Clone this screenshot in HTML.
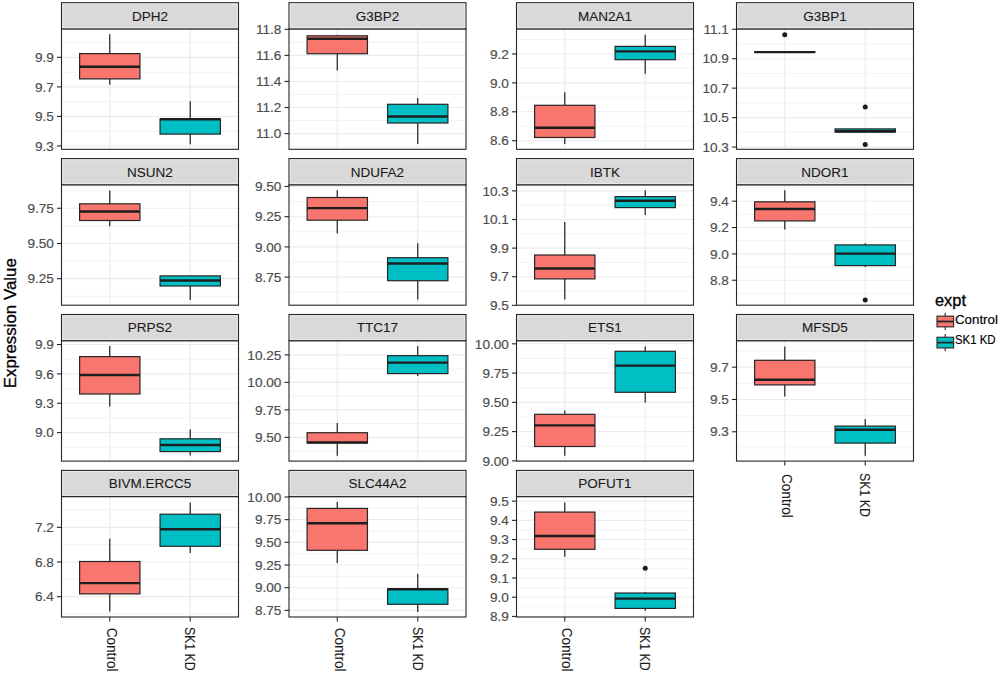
<!DOCTYPE html>
<html><head><meta charset="utf-8"><title>Expression boxplots</title>
<style>
html,body{margin:0;padding:0;background:#fff;}
body{width:1000px;height:674px;overflow:hidden;}
svg{display:block;}
text{font-family:"Liberation Sans",sans-serif;paint-order:stroke;stroke-width:0.35px;}
.s{font-size:13.5px;fill:#1A1A1A;stroke:#1A1A1A;stroke-width:0.1px;}
.a{font-size:13.6px;fill:#4D4D4D;stroke:#4D4D4D;stroke-width:0.18px;}
.x{font-size:14px;fill:#1A1A1A;stroke:#1A1A1A;stroke-width:0.1px;}
.t{font-size:16.9px;fill:#000;stroke:#000;stroke-width:0.3px;}
.l{font-size:12px;fill:#000;stroke:#000;stroke-width:0.15px;}
</style></head>
<body>
<svg width="1000" height="674" viewBox="0 0 1000 674">
<rect width="1000" height="674" fill="#fff"/>
<clipPath id="c00"><rect x="61.5" y="28.9" width="177" height="120.4"/></clipPath>
<g clip-path="url(#c00)">
<line x1="61.5" x2="238.5" y1="42.57" y2="42.57" stroke="#EBEBEB" stroke-width="0.6"/>
<line x1="61.5" x2="238.5" y1="72.11" y2="72.11" stroke="#EBEBEB" stroke-width="0.6"/>
<line x1="61.5" x2="238.5" y1="101.65" y2="101.65" stroke="#EBEBEB" stroke-width="0.6"/>
<line x1="61.5" x2="238.5" y1="131.19" y2="131.19" stroke="#EBEBEB" stroke-width="0.6"/>
<line x1="61.5" x2="238.5" y1="57.34" y2="57.34" stroke="#EBEBEB" stroke-width="1.1"/>
<line x1="61.5" x2="238.5" y1="86.88" y2="86.88" stroke="#EBEBEB" stroke-width="1.1"/>
<line x1="61.5" x2="238.5" y1="116.42" y2="116.42" stroke="#EBEBEB" stroke-width="1.1"/>
<line x1="61.5" x2="238.5" y1="145.96" y2="145.96" stroke="#EBEBEB" stroke-width="1.1"/>
<line x1="109.77" x2="109.77" y1="28.9" y2="149.3" stroke="#EBEBEB" stroke-width="1.1"/>
<line x1="190.23" x2="190.23" y1="28.9" y2="149.3" stroke="#EBEBEB" stroke-width="1.1"/>
<line x1="109.77" x2="109.77" y1="78.9" y2="84.8" stroke="#262626" stroke-width="1.25"/>
<line x1="109.77" x2="109.77" y1="34.2" y2="53.6" stroke="#262626" stroke-width="1.25"/>
<rect x="79.6" y="53.6" width="60.34" height="25.3" fill="#F8766D" stroke="#262626" stroke-width="1.2"/>
<line x1="79.6" x2="139.94" y1="66.8" y2="66.8" stroke="#1E1E1E" stroke-width="2.4"/>
<line x1="190.23" x2="190.23" y1="134.1" y2="144.3" stroke="#262626" stroke-width="1.25"/>
<line x1="190.23" x2="190.23" y1="101.3" y2="119" stroke="#262626" stroke-width="1.25"/>
<rect x="160.06" y="119" width="60.34" height="15.1" fill="#00BFC4" stroke="#262626" stroke-width="1.2"/>
<line x1="160.06" x2="220.4" y1="119.2" y2="119.2" stroke="#1E1E1E" stroke-width="2.4"/>
</g>
<rect x="61.5" y="28.9" width="177" height="120.4" fill="none" stroke="#262626" stroke-width="1.1"/>
<rect x="61.5" y="2.7" width="177" height="26.2" fill="#D9D9D9" stroke="#262626" stroke-width="1.1"/>
<rect x="62.8" y="4" width="174.4" height="23.6" fill="none" stroke="#ECECEC" stroke-width="0.9"/>
<text x="150" y="20.6" text-anchor="middle" class="s">DPH2</text>
<line x1="57" x2="61.5" y1="57.34" y2="57.34" stroke="#262626" stroke-width="1.1"/>
<text x="53.9" y="62.04" text-anchor="end" class="a">9.9</text>
<line x1="57" x2="61.5" y1="86.88" y2="86.88" stroke="#262626" stroke-width="1.1"/>
<text x="53.9" y="91.58" text-anchor="end" class="a">9.7</text>
<line x1="57" x2="61.5" y1="116.42" y2="116.42" stroke="#262626" stroke-width="1.1"/>
<text x="53.9" y="121.12" text-anchor="end" class="a">9.5</text>
<line x1="57" x2="61.5" y1="145.96" y2="145.96" stroke="#262626" stroke-width="1.1"/>
<text x="53.9" y="150.66" text-anchor="end" class="a">9.3</text>
<clipPath id="c01"><rect x="289" y="28.9" width="177" height="120.4"/></clipPath>
<g clip-path="url(#c01)">
<line x1="289" x2="466" y1="42.34" y2="42.34" stroke="#EBEBEB" stroke-width="0.6"/>
<line x1="289" x2="466" y1="68.41" y2="68.41" stroke="#EBEBEB" stroke-width="0.6"/>
<line x1="289" x2="466" y1="94.48" y2="94.48" stroke="#EBEBEB" stroke-width="0.6"/>
<line x1="289" x2="466" y1="120.55" y2="120.55" stroke="#EBEBEB" stroke-width="0.6"/>
<line x1="289" x2="466" y1="146.62" y2="146.62" stroke="#EBEBEB" stroke-width="0.6"/>
<line x1="289" x2="466" y1="29.3" y2="29.3" stroke="#EBEBEB" stroke-width="1.1"/>
<line x1="289" x2="466" y1="55.37" y2="55.37" stroke="#EBEBEB" stroke-width="1.1"/>
<line x1="289" x2="466" y1="81.44" y2="81.44" stroke="#EBEBEB" stroke-width="1.1"/>
<line x1="289" x2="466" y1="107.51" y2="107.51" stroke="#EBEBEB" stroke-width="1.1"/>
<line x1="289" x2="466" y1="133.58" y2="133.58" stroke="#EBEBEB" stroke-width="1.1"/>
<line x1="337.27" x2="337.27" y1="28.9" y2="149.3" stroke="#EBEBEB" stroke-width="1.1"/>
<line x1="417.73" x2="417.73" y1="28.9" y2="149.3" stroke="#EBEBEB" stroke-width="1.1"/>
<line x1="337.27" x2="337.27" y1="53.7" y2="70.5" stroke="#262626" stroke-width="1.25"/>
<line x1="337.27" x2="337.27" y1="34.7" y2="35.8" stroke="#262626" stroke-width="1.25"/>
<rect x="307.1" y="35.8" width="60.34" height="17.9" fill="#F8766D" stroke="#262626" stroke-width="1.2"/>
<line x1="307.1" x2="367.44" y1="38.8" y2="38.8" stroke="#1E1E1E" stroke-width="2.4"/>
<line x1="417.73" x2="417.73" y1="123" y2="144.1" stroke="#262626" stroke-width="1.25"/>
<line x1="417.73" x2="417.73" y1="98.1" y2="104.3" stroke="#262626" stroke-width="1.25"/>
<rect x="387.56" y="104.3" width="60.34" height="18.7" fill="#00BFC4" stroke="#262626" stroke-width="1.2"/>
<line x1="387.56" x2="447.9" y1="116.5" y2="116.5" stroke="#1E1E1E" stroke-width="2.4"/>
</g>
<rect x="289" y="28.9" width="177" height="120.4" fill="none" stroke="#262626" stroke-width="1.1"/>
<rect x="289" y="2.7" width="177" height="26.2" fill="#D9D9D9" stroke="#262626" stroke-width="1.1"/>
<rect x="290.3" y="4" width="174.4" height="23.6" fill="none" stroke="#ECECEC" stroke-width="0.9"/>
<text x="377.5" y="20.6" text-anchor="middle" class="s">G3BP2</text>
<line x1="284.5" x2="289" y1="29.3" y2="29.3" stroke="#262626" stroke-width="1.1"/>
<text x="281.4" y="34" text-anchor="end" class="a">11.8</text>
<line x1="284.5" x2="289" y1="55.37" y2="55.37" stroke="#262626" stroke-width="1.1"/>
<text x="281.4" y="60.07" text-anchor="end" class="a">11.6</text>
<line x1="284.5" x2="289" y1="81.44" y2="81.44" stroke="#262626" stroke-width="1.1"/>
<text x="281.4" y="86.14" text-anchor="end" class="a">11.4</text>
<line x1="284.5" x2="289" y1="107.51" y2="107.51" stroke="#262626" stroke-width="1.1"/>
<text x="281.4" y="112.21" text-anchor="end" class="a">11.2</text>
<line x1="284.5" x2="289" y1="133.58" y2="133.58" stroke="#262626" stroke-width="1.1"/>
<text x="281.4" y="138.28" text-anchor="end" class="a">11.0</text>
<clipPath id="c02"><rect x="516.5" y="28.9" width="177" height="120.4"/></clipPath>
<g clip-path="url(#c02)">
<line x1="516.5" x2="693.5" y1="39.47" y2="39.47" stroke="#EBEBEB" stroke-width="0.6"/>
<line x1="516.5" x2="693.5" y1="68.4" y2="68.4" stroke="#EBEBEB" stroke-width="0.6"/>
<line x1="516.5" x2="693.5" y1="97.33" y2="97.33" stroke="#EBEBEB" stroke-width="0.6"/>
<line x1="516.5" x2="693.5" y1="126.25" y2="126.25" stroke="#EBEBEB" stroke-width="0.6"/>
<line x1="516.5" x2="693.5" y1="53.93" y2="53.93" stroke="#EBEBEB" stroke-width="1.1"/>
<line x1="516.5" x2="693.5" y1="82.86" y2="82.86" stroke="#EBEBEB" stroke-width="1.1"/>
<line x1="516.5" x2="693.5" y1="111.79" y2="111.79" stroke="#EBEBEB" stroke-width="1.1"/>
<line x1="516.5" x2="693.5" y1="140.72" y2="140.72" stroke="#EBEBEB" stroke-width="1.1"/>
<line x1="564.77" x2="564.77" y1="28.9" y2="149.3" stroke="#EBEBEB" stroke-width="1.1"/>
<line x1="645.23" x2="645.23" y1="28.9" y2="149.3" stroke="#EBEBEB" stroke-width="1.1"/>
<line x1="564.77" x2="564.77" y1="137.5" y2="143.9" stroke="#262626" stroke-width="1.25"/>
<line x1="564.77" x2="564.77" y1="92.2" y2="105.3" stroke="#262626" stroke-width="1.25"/>
<rect x="534.6" y="105.3" width="60.34" height="32.2" fill="#F8766D" stroke="#262626" stroke-width="1.2"/>
<line x1="534.6" x2="594.94" y1="127.8" y2="127.8" stroke="#1E1E1E" stroke-width="2.4"/>
<line x1="645.23" x2="645.23" y1="59.7" y2="73.8" stroke="#262626" stroke-width="1.25"/>
<line x1="645.23" x2="645.23" y1="34.7" y2="46.4" stroke="#262626" stroke-width="1.25"/>
<rect x="615.06" y="46.4" width="60.34" height="13.3" fill="#00BFC4" stroke="#262626" stroke-width="1.2"/>
<line x1="615.06" x2="675.4" y1="51.4" y2="51.4" stroke="#1E1E1E" stroke-width="2.4"/>
</g>
<rect x="516.5" y="28.9" width="177" height="120.4" fill="none" stroke="#262626" stroke-width="1.1"/>
<rect x="516.5" y="2.7" width="177" height="26.2" fill="#D9D9D9" stroke="#262626" stroke-width="1.1"/>
<rect x="517.8" y="4" width="174.4" height="23.6" fill="none" stroke="#ECECEC" stroke-width="0.9"/>
<text x="605" y="20.6" text-anchor="middle" class="s">MAN2A1</text>
<line x1="512" x2="516.5" y1="53.93" y2="53.93" stroke="#262626" stroke-width="1.1"/>
<text x="508.9" y="58.63" text-anchor="end" class="a">9.2</text>
<line x1="512" x2="516.5" y1="82.86" y2="82.86" stroke="#262626" stroke-width="1.1"/>
<text x="508.9" y="87.56" text-anchor="end" class="a">9.0</text>
<line x1="512" x2="516.5" y1="111.79" y2="111.79" stroke="#262626" stroke-width="1.1"/>
<text x="508.9" y="116.49" text-anchor="end" class="a">8.8</text>
<line x1="512" x2="516.5" y1="140.72" y2="140.72" stroke="#262626" stroke-width="1.1"/>
<text x="508.9" y="145.42" text-anchor="end" class="a">8.6</text>
<clipPath id="c03"><rect x="736.5" y="28.9" width="177" height="120.4"/></clipPath>
<g clip-path="url(#c03)">
<line x1="736.5" x2="913.5" y1="43.97" y2="43.97" stroke="#EBEBEB" stroke-width="0.6"/>
<line x1="736.5" x2="913.5" y1="73.42" y2="73.42" stroke="#EBEBEB" stroke-width="0.6"/>
<line x1="736.5" x2="913.5" y1="102.87" y2="102.87" stroke="#EBEBEB" stroke-width="0.6"/>
<line x1="736.5" x2="913.5" y1="132.32" y2="132.32" stroke="#EBEBEB" stroke-width="0.6"/>
<line x1="736.5" x2="913.5" y1="29.24" y2="29.24" stroke="#EBEBEB" stroke-width="1.1"/>
<line x1="736.5" x2="913.5" y1="58.69" y2="58.69" stroke="#EBEBEB" stroke-width="1.1"/>
<line x1="736.5" x2="913.5" y1="88.14" y2="88.14" stroke="#EBEBEB" stroke-width="1.1"/>
<line x1="736.5" x2="913.5" y1="117.59" y2="117.59" stroke="#EBEBEB" stroke-width="1.1"/>
<line x1="736.5" x2="913.5" y1="147.04" y2="147.04" stroke="#EBEBEB" stroke-width="1.1"/>
<line x1="784.77" x2="784.77" y1="28.9" y2="149.3" stroke="#EBEBEB" stroke-width="1.1"/>
<line x1="865.23" x2="865.23" y1="28.9" y2="149.3" stroke="#EBEBEB" stroke-width="1.1"/>
<rect x="754.6" y="51.8" width="60.34" height="0.6" fill="#F8766D" stroke="#262626" stroke-width="1.2"/>
<line x1="754.6" x2="814.94" y1="52.1" y2="52.1" stroke="#1E1E1E" stroke-width="2.4"/>
<circle cx="784.77" cy="34.7" r="2.5" fill="#1A1A1A"/>
<rect x="835.06" y="128.9" width="60.34" height="3.2" fill="#00BFC4" stroke="#262626" stroke-width="1.2"/>
<line x1="835.06" x2="895.4" y1="131.3" y2="131.3" stroke="#1E1E1E" stroke-width="2.4"/>
<circle cx="865.23" cy="107.1" r="2.5" fill="#1A1A1A"/>
<circle cx="865.23" cy="144.4" r="2.5" fill="#1A1A1A"/>
</g>
<rect x="736.5" y="28.9" width="177" height="120.4" fill="none" stroke="#262626" stroke-width="1.1"/>
<rect x="736.5" y="2.7" width="177" height="26.2" fill="#D9D9D9" stroke="#262626" stroke-width="1.1"/>
<rect x="737.8" y="4" width="174.4" height="23.6" fill="none" stroke="#ECECEC" stroke-width="0.9"/>
<text x="825" y="20.6" text-anchor="middle" class="s">G3BP1</text>
<line x1="732" x2="736.5" y1="29.24" y2="29.24" stroke="#262626" stroke-width="1.1"/>
<text x="728.9" y="33.94" text-anchor="end" class="a">11.1</text>
<line x1="732" x2="736.5" y1="58.69" y2="58.69" stroke="#262626" stroke-width="1.1"/>
<text x="728.9" y="63.39" text-anchor="end" class="a">10.9</text>
<line x1="732" x2="736.5" y1="88.14" y2="88.14" stroke="#262626" stroke-width="1.1"/>
<text x="728.9" y="92.84" text-anchor="end" class="a">10.7</text>
<line x1="732" x2="736.5" y1="117.59" y2="117.59" stroke="#262626" stroke-width="1.1"/>
<text x="728.9" y="122.29" text-anchor="end" class="a">10.5</text>
<line x1="732" x2="736.5" y1="147.04" y2="147.04" stroke="#262626" stroke-width="1.1"/>
<text x="728.9" y="151.74" text-anchor="end" class="a">10.3</text>
<clipPath id="c10"><rect x="61.5" y="184.8" width="177" height="120.4"/></clipPath>
<g clip-path="url(#c10)">
<line x1="61.5" x2="238.5" y1="190.67" y2="190.67" stroke="#EBEBEB" stroke-width="0.6"/>
<line x1="61.5" x2="238.5" y1="225.87" y2="225.87" stroke="#EBEBEB" stroke-width="0.6"/>
<line x1="61.5" x2="238.5" y1="261.07" y2="261.07" stroke="#EBEBEB" stroke-width="0.6"/>
<line x1="61.5" x2="238.5" y1="296.27" y2="296.27" stroke="#EBEBEB" stroke-width="0.6"/>
<line x1="61.5" x2="238.5" y1="208.27" y2="208.27" stroke="#EBEBEB" stroke-width="1.1"/>
<line x1="61.5" x2="238.5" y1="243.47" y2="243.47" stroke="#EBEBEB" stroke-width="1.1"/>
<line x1="61.5" x2="238.5" y1="278.67" y2="278.67" stroke="#EBEBEB" stroke-width="1.1"/>
<line x1="109.77" x2="109.77" y1="184.8" y2="305.2" stroke="#EBEBEB" stroke-width="1.1"/>
<line x1="190.23" x2="190.23" y1="184.8" y2="305.2" stroke="#EBEBEB" stroke-width="1.1"/>
<line x1="109.77" x2="109.77" y1="220.5" y2="226.2" stroke="#262626" stroke-width="1.25"/>
<line x1="109.77" x2="109.77" y1="190.6" y2="203.8" stroke="#262626" stroke-width="1.25"/>
<rect x="79.6" y="203.8" width="60.34" height="16.7" fill="#F8766D" stroke="#262626" stroke-width="1.2"/>
<line x1="79.6" x2="139.94" y1="211.5" y2="211.5" stroke="#1E1E1E" stroke-width="2.4"/>
<line x1="190.23" x2="190.23" y1="286" y2="299.9" stroke="#262626" stroke-width="1.25"/>
<rect x="160.06" y="275.9" width="60.34" height="10.1" fill="#00BFC4" stroke="#262626" stroke-width="1.2"/>
<line x1="160.06" x2="220.4" y1="280.5" y2="280.5" stroke="#1E1E1E" stroke-width="2.4"/>
</g>
<rect x="61.5" y="184.8" width="177" height="120.4" fill="none" stroke="#262626" stroke-width="1.1"/>
<rect x="61.5" y="158.6" width="177" height="26.2" fill="#D9D9D9" stroke="#262626" stroke-width="1.1"/>
<rect x="62.8" y="159.9" width="174.4" height="23.6" fill="none" stroke="#ECECEC" stroke-width="0.9"/>
<text x="150" y="176.5" text-anchor="middle" class="s">NSUN2</text>
<line x1="57" x2="61.5" y1="208.27" y2="208.27" stroke="#262626" stroke-width="1.1"/>
<text x="53.9" y="212.97" text-anchor="end" class="a">9.75</text>
<line x1="57" x2="61.5" y1="243.47" y2="243.47" stroke="#262626" stroke-width="1.1"/>
<text x="53.9" y="248.17" text-anchor="end" class="a">9.50</text>
<line x1="57" x2="61.5" y1="278.67" y2="278.67" stroke="#262626" stroke-width="1.1"/>
<text x="53.9" y="283.37" text-anchor="end" class="a">9.25</text>
<clipPath id="c11"><rect x="289" y="184.8" width="177" height="120.4"/></clipPath>
<g clip-path="url(#c11)">
<line x1="289" x2="466" y1="201.58" y2="201.58" stroke="#EBEBEB" stroke-width="0.6"/>
<line x1="289" x2="466" y1="231.8" y2="231.8" stroke="#EBEBEB" stroke-width="0.6"/>
<line x1="289" x2="466" y1="262.02" y2="262.02" stroke="#EBEBEB" stroke-width="0.6"/>
<line x1="289" x2="466" y1="292.24" y2="292.24" stroke="#EBEBEB" stroke-width="0.6"/>
<line x1="289" x2="466" y1="186.47" y2="186.47" stroke="#EBEBEB" stroke-width="1.1"/>
<line x1="289" x2="466" y1="216.69" y2="216.69" stroke="#EBEBEB" stroke-width="1.1"/>
<line x1="289" x2="466" y1="246.91" y2="246.91" stroke="#EBEBEB" stroke-width="1.1"/>
<line x1="289" x2="466" y1="277.13" y2="277.13" stroke="#EBEBEB" stroke-width="1.1"/>
<line x1="337.27" x2="337.27" y1="184.8" y2="305.2" stroke="#EBEBEB" stroke-width="1.1"/>
<line x1="417.73" x2="417.73" y1="184.8" y2="305.2" stroke="#EBEBEB" stroke-width="1.1"/>
<line x1="337.27" x2="337.27" y1="220.2" y2="233.6" stroke="#262626" stroke-width="1.25"/>
<line x1="337.27" x2="337.27" y1="190.3" y2="197.5" stroke="#262626" stroke-width="1.25"/>
<rect x="307.1" y="197.5" width="60.34" height="22.7" fill="#F8766D" stroke="#262626" stroke-width="1.2"/>
<line x1="307.1" x2="367.44" y1="208.1" y2="208.1" stroke="#1E1E1E" stroke-width="2.4"/>
<line x1="417.73" x2="417.73" y1="280.7" y2="299.6" stroke="#262626" stroke-width="1.25"/>
<line x1="417.73" x2="417.73" y1="243.2" y2="257.7" stroke="#262626" stroke-width="1.25"/>
<rect x="387.56" y="257.7" width="60.34" height="23" fill="#00BFC4" stroke="#262626" stroke-width="1.2"/>
<line x1="387.56" x2="447.9" y1="263.5" y2="263.5" stroke="#1E1E1E" stroke-width="2.4"/>
</g>
<rect x="289" y="184.8" width="177" height="120.4" fill="none" stroke="#262626" stroke-width="1.1"/>
<rect x="289" y="158.6" width="177" height="26.2" fill="#D9D9D9" stroke="#262626" stroke-width="1.1"/>
<rect x="290.3" y="159.9" width="174.4" height="23.6" fill="none" stroke="#ECECEC" stroke-width="0.9"/>
<text x="377.5" y="176.5" text-anchor="middle" class="s">NDUFA2</text>
<line x1="284.5" x2="289" y1="186.47" y2="186.47" stroke="#262626" stroke-width="1.1"/>
<text x="281.4" y="191.17" text-anchor="end" class="a">9.50</text>
<line x1="284.5" x2="289" y1="216.69" y2="216.69" stroke="#262626" stroke-width="1.1"/>
<text x="281.4" y="221.39" text-anchor="end" class="a">9.25</text>
<line x1="284.5" x2="289" y1="246.91" y2="246.91" stroke="#262626" stroke-width="1.1"/>
<text x="281.4" y="251.61" text-anchor="end" class="a">9.00</text>
<line x1="284.5" x2="289" y1="277.13" y2="277.13" stroke="#262626" stroke-width="1.1"/>
<text x="281.4" y="281.83" text-anchor="end" class="a">8.75</text>
<clipPath id="c12"><rect x="516.5" y="184.8" width="177" height="120.4"/></clipPath>
<g clip-path="url(#c12)">
<line x1="516.5" x2="693.5" y1="205.19" y2="205.19" stroke="#EBEBEB" stroke-width="0.6"/>
<line x1="516.5" x2="693.5" y1="233.81" y2="233.81" stroke="#EBEBEB" stroke-width="0.6"/>
<line x1="516.5" x2="693.5" y1="262.43" y2="262.43" stroke="#EBEBEB" stroke-width="0.6"/>
<line x1="516.5" x2="693.5" y1="291.05" y2="291.05" stroke="#EBEBEB" stroke-width="0.6"/>
<line x1="516.5" x2="693.5" y1="190.88" y2="190.88" stroke="#EBEBEB" stroke-width="1.1"/>
<line x1="516.5" x2="693.5" y1="219.5" y2="219.5" stroke="#EBEBEB" stroke-width="1.1"/>
<line x1="516.5" x2="693.5" y1="248.12" y2="248.12" stroke="#EBEBEB" stroke-width="1.1"/>
<line x1="516.5" x2="693.5" y1="276.74" y2="276.74" stroke="#EBEBEB" stroke-width="1.1"/>
<line x1="516.5" x2="693.5" y1="305.36" y2="305.36" stroke="#EBEBEB" stroke-width="1.1"/>
<line x1="564.77" x2="564.77" y1="184.8" y2="305.2" stroke="#EBEBEB" stroke-width="1.1"/>
<line x1="645.23" x2="645.23" y1="184.8" y2="305.2" stroke="#EBEBEB" stroke-width="1.1"/>
<line x1="564.77" x2="564.77" y1="278.9" y2="299.6" stroke="#262626" stroke-width="1.25"/>
<line x1="564.77" x2="564.77" y1="221.9" y2="255" stroke="#262626" stroke-width="1.25"/>
<rect x="534.6" y="255" width="60.34" height="23.9" fill="#F8766D" stroke="#262626" stroke-width="1.2"/>
<line x1="534.6" x2="594.94" y1="268.5" y2="268.5" stroke="#1E1E1E" stroke-width="2.4"/>
<line x1="645.23" x2="645.23" y1="207.6" y2="215" stroke="#262626" stroke-width="1.25"/>
<line x1="645.23" x2="645.23" y1="190.3" y2="196.6" stroke="#262626" stroke-width="1.25"/>
<rect x="615.06" y="196.6" width="60.34" height="11" fill="#00BFC4" stroke="#262626" stroke-width="1.2"/>
<line x1="615.06" x2="675.4" y1="200.7" y2="200.7" stroke="#1E1E1E" stroke-width="2.4"/>
</g>
<rect x="516.5" y="184.8" width="177" height="120.4" fill="none" stroke="#262626" stroke-width="1.1"/>
<rect x="516.5" y="158.6" width="177" height="26.2" fill="#D9D9D9" stroke="#262626" stroke-width="1.1"/>
<rect x="517.8" y="159.9" width="174.4" height="23.6" fill="none" stroke="#ECECEC" stroke-width="0.9"/>
<text x="605" y="176.5" text-anchor="middle" class="s">IBTK</text>
<line x1="512" x2="516.5" y1="190.88" y2="190.88" stroke="#262626" stroke-width="1.1"/>
<text x="508.9" y="195.58" text-anchor="end" class="a">10.3</text>
<line x1="512" x2="516.5" y1="219.5" y2="219.5" stroke="#262626" stroke-width="1.1"/>
<text x="508.9" y="224.2" text-anchor="end" class="a">10.1</text>
<line x1="512" x2="516.5" y1="248.12" y2="248.12" stroke="#262626" stroke-width="1.1"/>
<text x="508.9" y="252.82" text-anchor="end" class="a">9.9</text>
<line x1="512" x2="516.5" y1="276.74" y2="276.74" stroke="#262626" stroke-width="1.1"/>
<text x="508.9" y="281.44" text-anchor="end" class="a">9.7</text>
<line x1="512" x2="516.5" y1="305.36" y2="305.36" stroke="#262626" stroke-width="1.1"/>
<text x="508.9" y="310.06" text-anchor="end" class="a">9.5</text>
<clipPath id="c13"><rect x="736.5" y="184.8" width="177" height="120.4"/></clipPath>
<g clip-path="url(#c13)">
<line x1="736.5" x2="913.5" y1="188.03" y2="188.03" stroke="#EBEBEB" stroke-width="0.6"/>
<line x1="736.5" x2="913.5" y1="214.38" y2="214.38" stroke="#EBEBEB" stroke-width="0.6"/>
<line x1="736.5" x2="913.5" y1="240.72" y2="240.72" stroke="#EBEBEB" stroke-width="0.6"/>
<line x1="736.5" x2="913.5" y1="267.07" y2="267.07" stroke="#EBEBEB" stroke-width="0.6"/>
<line x1="736.5" x2="913.5" y1="293.42" y2="293.42" stroke="#EBEBEB" stroke-width="0.6"/>
<line x1="736.5" x2="913.5" y1="201.2" y2="201.2" stroke="#EBEBEB" stroke-width="1.1"/>
<line x1="736.5" x2="913.5" y1="227.55" y2="227.55" stroke="#EBEBEB" stroke-width="1.1"/>
<line x1="736.5" x2="913.5" y1="253.9" y2="253.9" stroke="#EBEBEB" stroke-width="1.1"/>
<line x1="736.5" x2="913.5" y1="280.25" y2="280.25" stroke="#EBEBEB" stroke-width="1.1"/>
<line x1="784.77" x2="784.77" y1="184.8" y2="305.2" stroke="#EBEBEB" stroke-width="1.1"/>
<line x1="865.23" x2="865.23" y1="184.8" y2="305.2" stroke="#EBEBEB" stroke-width="1.1"/>
<line x1="784.77" x2="784.77" y1="220.9" y2="229.4" stroke="#262626" stroke-width="1.25"/>
<line x1="784.77" x2="784.77" y1="190.3" y2="201.8" stroke="#262626" stroke-width="1.25"/>
<rect x="754.6" y="201.8" width="60.34" height="19.1" fill="#F8766D" stroke="#262626" stroke-width="1.2"/>
<line x1="754.6" x2="814.94" y1="209" y2="209" stroke="#1E1E1E" stroke-width="2.4"/>
<line x1="865.23" x2="865.23" y1="265.6" y2="266.9" stroke="#262626" stroke-width="1.25"/>
<line x1="865.23" x2="865.23" y1="243.2" y2="244.9" stroke="#262626" stroke-width="1.25"/>
<rect x="835.06" y="244.9" width="60.34" height="20.7" fill="#00BFC4" stroke="#262626" stroke-width="1.2"/>
<line x1="835.06" x2="895.4" y1="253.6" y2="253.6" stroke="#1E1E1E" stroke-width="2.4"/>
<circle cx="865.23" cy="300.1" r="2.5" fill="#1A1A1A"/>
</g>
<rect x="736.5" y="184.8" width="177" height="120.4" fill="none" stroke="#262626" stroke-width="1.1"/>
<rect x="736.5" y="158.6" width="177" height="26.2" fill="#D9D9D9" stroke="#262626" stroke-width="1.1"/>
<rect x="737.8" y="159.9" width="174.4" height="23.6" fill="none" stroke="#ECECEC" stroke-width="0.9"/>
<text x="825" y="176.5" text-anchor="middle" class="s">NDOR1</text>
<line x1="732" x2="736.5" y1="201.2" y2="201.2" stroke="#262626" stroke-width="1.1"/>
<text x="728.9" y="205.9" text-anchor="end" class="a">9.4</text>
<line x1="732" x2="736.5" y1="227.55" y2="227.55" stroke="#262626" stroke-width="1.1"/>
<text x="728.9" y="232.25" text-anchor="end" class="a">9.2</text>
<line x1="732" x2="736.5" y1="253.9" y2="253.9" stroke="#262626" stroke-width="1.1"/>
<text x="728.9" y="258.6" text-anchor="end" class="a">9.0</text>
<line x1="732" x2="736.5" y1="280.25" y2="280.25" stroke="#262626" stroke-width="1.1"/>
<text x="728.9" y="284.95" text-anchor="end" class="a">8.8</text>
<clipPath id="c20"><rect x="61.5" y="340.7" width="177" height="120.4"/></clipPath>
<g clip-path="url(#c20)">
<line x1="61.5" x2="238.5" y1="359.23" y2="359.23" stroke="#EBEBEB" stroke-width="0.6"/>
<line x1="61.5" x2="238.5" y1="388.58" y2="388.58" stroke="#EBEBEB" stroke-width="0.6"/>
<line x1="61.5" x2="238.5" y1="417.93" y2="417.93" stroke="#EBEBEB" stroke-width="0.6"/>
<line x1="61.5" x2="238.5" y1="447.27" y2="447.27" stroke="#EBEBEB" stroke-width="0.6"/>
<line x1="61.5" x2="238.5" y1="344.55" y2="344.55" stroke="#EBEBEB" stroke-width="1.1"/>
<line x1="61.5" x2="238.5" y1="373.9" y2="373.9" stroke="#EBEBEB" stroke-width="1.1"/>
<line x1="61.5" x2="238.5" y1="403.25" y2="403.25" stroke="#EBEBEB" stroke-width="1.1"/>
<line x1="61.5" x2="238.5" y1="432.6" y2="432.6" stroke="#EBEBEB" stroke-width="1.1"/>
<line x1="109.77" x2="109.77" y1="340.7" y2="461.1" stroke="#EBEBEB" stroke-width="1.1"/>
<line x1="190.23" x2="190.23" y1="340.7" y2="461.1" stroke="#EBEBEB" stroke-width="1.1"/>
<line x1="109.77" x2="109.77" y1="394" y2="406.5" stroke="#262626" stroke-width="1.25"/>
<line x1="109.77" x2="109.77" y1="346" y2="356.6" stroke="#262626" stroke-width="1.25"/>
<rect x="79.6" y="356.6" width="60.34" height="37.4" fill="#F8766D" stroke="#262626" stroke-width="1.2"/>
<line x1="79.6" x2="139.94" y1="375" y2="375" stroke="#1E1E1E" stroke-width="2.4"/>
<line x1="190.23" x2="190.23" y1="451.6" y2="455.6" stroke="#262626" stroke-width="1.25"/>
<line x1="190.23" x2="190.23" y1="429.6" y2="438.8" stroke="#262626" stroke-width="1.25"/>
<rect x="160.06" y="438.8" width="60.34" height="12.8" fill="#00BFC4" stroke="#262626" stroke-width="1.2"/>
<line x1="160.06" x2="220.4" y1="445" y2="445" stroke="#1E1E1E" stroke-width="2.4"/>
</g>
<rect x="61.5" y="340.7" width="177" height="120.4" fill="none" stroke="#262626" stroke-width="1.1"/>
<rect x="61.5" y="314.5" width="177" height="26.2" fill="#D9D9D9" stroke="#262626" stroke-width="1.1"/>
<rect x="62.8" y="315.8" width="174.4" height="23.6" fill="none" stroke="#ECECEC" stroke-width="0.9"/>
<text x="150" y="332.4" text-anchor="middle" class="s">PRPS2</text>
<line x1="57" x2="61.5" y1="344.55" y2="344.55" stroke="#262626" stroke-width="1.1"/>
<text x="53.9" y="349.25" text-anchor="end" class="a">9.9</text>
<line x1="57" x2="61.5" y1="373.9" y2="373.9" stroke="#262626" stroke-width="1.1"/>
<text x="53.9" y="378.6" text-anchor="end" class="a">9.6</text>
<line x1="57" x2="61.5" y1="403.25" y2="403.25" stroke="#262626" stroke-width="1.1"/>
<text x="53.9" y="407.95" text-anchor="end" class="a">9.3</text>
<line x1="57" x2="61.5" y1="432.6" y2="432.6" stroke="#262626" stroke-width="1.1"/>
<text x="53.9" y="437.3" text-anchor="end" class="a">9.0</text>
<clipPath id="c21"><rect x="289" y="340.7" width="177" height="120.4"/></clipPath>
<g clip-path="url(#c21)">
<line x1="289" x2="466" y1="341.11" y2="341.11" stroke="#EBEBEB" stroke-width="0.6"/>
<line x1="289" x2="466" y1="368.62" y2="368.62" stroke="#EBEBEB" stroke-width="0.6"/>
<line x1="289" x2="466" y1="396.12" y2="396.12" stroke="#EBEBEB" stroke-width="0.6"/>
<line x1="289" x2="466" y1="423.63" y2="423.63" stroke="#EBEBEB" stroke-width="0.6"/>
<line x1="289" x2="466" y1="451.14" y2="451.14" stroke="#EBEBEB" stroke-width="0.6"/>
<line x1="289" x2="466" y1="354.86" y2="354.86" stroke="#EBEBEB" stroke-width="1.1"/>
<line x1="289" x2="466" y1="382.37" y2="382.37" stroke="#EBEBEB" stroke-width="1.1"/>
<line x1="289" x2="466" y1="409.88" y2="409.88" stroke="#EBEBEB" stroke-width="1.1"/>
<line x1="289" x2="466" y1="437.39" y2="437.39" stroke="#EBEBEB" stroke-width="1.1"/>
<line x1="337.27" x2="337.27" y1="340.7" y2="461.1" stroke="#EBEBEB" stroke-width="1.1"/>
<line x1="417.73" x2="417.73" y1="340.7" y2="461.1" stroke="#EBEBEB" stroke-width="1.1"/>
<line x1="337.27" x2="337.27" y1="443.1" y2="455.7" stroke="#262626" stroke-width="1.25"/>
<line x1="337.27" x2="337.27" y1="423.1" y2="432.7" stroke="#262626" stroke-width="1.25"/>
<rect x="307.1" y="432.7" width="60.34" height="10.4" fill="#F8766D" stroke="#262626" stroke-width="1.2"/>
<line x1="307.1" x2="367.44" y1="442.4" y2="442.4" stroke="#1E1E1E" stroke-width="2.4"/>
<line x1="417.73" x2="417.73" y1="373.6" y2="375.9" stroke="#262626" stroke-width="1.25"/>
<line x1="417.73" x2="417.73" y1="346" y2="355.7" stroke="#262626" stroke-width="1.25"/>
<rect x="387.56" y="355.7" width="60.34" height="17.9" fill="#00BFC4" stroke="#262626" stroke-width="1.2"/>
<line x1="387.56" x2="447.9" y1="362.6" y2="362.6" stroke="#1E1E1E" stroke-width="2.4"/>
</g>
<rect x="289" y="340.7" width="177" height="120.4" fill="none" stroke="#262626" stroke-width="1.1"/>
<rect x="289" y="314.5" width="177" height="26.2" fill="#D9D9D9" stroke="#262626" stroke-width="1.1"/>
<rect x="290.3" y="315.8" width="174.4" height="23.6" fill="none" stroke="#ECECEC" stroke-width="0.9"/>
<text x="377.5" y="332.4" text-anchor="middle" class="s">TTC17</text>
<line x1="284.5" x2="289" y1="354.86" y2="354.86" stroke="#262626" stroke-width="1.1"/>
<text x="281.4" y="359.56" text-anchor="end" class="a">10.25</text>
<line x1="284.5" x2="289" y1="382.37" y2="382.37" stroke="#262626" stroke-width="1.1"/>
<text x="281.4" y="387.07" text-anchor="end" class="a">10.00</text>
<line x1="284.5" x2="289" y1="409.88" y2="409.88" stroke="#262626" stroke-width="1.1"/>
<text x="281.4" y="414.58" text-anchor="end" class="a">9.75</text>
<line x1="284.5" x2="289" y1="437.39" y2="437.39" stroke="#262626" stroke-width="1.1"/>
<text x="281.4" y="442.09" text-anchor="end" class="a">9.50</text>
<clipPath id="c22"><rect x="516.5" y="340.7" width="177" height="120.4"/></clipPath>
<g clip-path="url(#c22)">
<line x1="516.5" x2="693.5" y1="358.45" y2="358.45" stroke="#EBEBEB" stroke-width="0.6"/>
<line x1="516.5" x2="693.5" y1="387.71" y2="387.71" stroke="#EBEBEB" stroke-width="0.6"/>
<line x1="516.5" x2="693.5" y1="416.97" y2="416.97" stroke="#EBEBEB" stroke-width="0.6"/>
<line x1="516.5" x2="693.5" y1="446.23" y2="446.23" stroke="#EBEBEB" stroke-width="0.6"/>
<line x1="516.5" x2="693.5" y1="343.82" y2="343.82" stroke="#EBEBEB" stroke-width="1.1"/>
<line x1="516.5" x2="693.5" y1="373.08" y2="373.08" stroke="#EBEBEB" stroke-width="1.1"/>
<line x1="516.5" x2="693.5" y1="402.34" y2="402.34" stroke="#EBEBEB" stroke-width="1.1"/>
<line x1="516.5" x2="693.5" y1="431.6" y2="431.6" stroke="#EBEBEB" stroke-width="1.1"/>
<line x1="516.5" x2="693.5" y1="460.86" y2="460.86" stroke="#EBEBEB" stroke-width="1.1"/>
<line x1="564.77" x2="564.77" y1="340.7" y2="461.1" stroke="#EBEBEB" stroke-width="1.1"/>
<line x1="645.23" x2="645.23" y1="340.7" y2="461.1" stroke="#EBEBEB" stroke-width="1.1"/>
<line x1="564.77" x2="564.77" y1="446.5" y2="455.7" stroke="#262626" stroke-width="1.25"/>
<line x1="564.77" x2="564.77" y1="410.4" y2="414.3" stroke="#262626" stroke-width="1.25"/>
<rect x="534.6" y="414.3" width="60.34" height="32.2" fill="#F8766D" stroke="#262626" stroke-width="1.2"/>
<line x1="534.6" x2="594.94" y1="425.4" y2="425.4" stroke="#1E1E1E" stroke-width="2.4"/>
<line x1="645.23" x2="645.23" y1="392.3" y2="402.4" stroke="#262626" stroke-width="1.25"/>
<line x1="645.23" x2="645.23" y1="346.5" y2="351.3" stroke="#262626" stroke-width="1.25"/>
<rect x="615.06" y="351.3" width="60.34" height="41" fill="#00BFC4" stroke="#262626" stroke-width="1.2"/>
<line x1="615.06" x2="675.4" y1="365.6" y2="365.6" stroke="#1E1E1E" stroke-width="2.4"/>
</g>
<rect x="516.5" y="340.7" width="177" height="120.4" fill="none" stroke="#262626" stroke-width="1.1"/>
<rect x="516.5" y="314.5" width="177" height="26.2" fill="#D9D9D9" stroke="#262626" stroke-width="1.1"/>
<rect x="517.8" y="315.8" width="174.4" height="23.6" fill="none" stroke="#ECECEC" stroke-width="0.9"/>
<text x="605" y="332.4" text-anchor="middle" class="s">ETS1</text>
<line x1="512" x2="516.5" y1="343.82" y2="343.82" stroke="#262626" stroke-width="1.1"/>
<text x="508.9" y="348.52" text-anchor="end" class="a">10.00</text>
<line x1="512" x2="516.5" y1="373.08" y2="373.08" stroke="#262626" stroke-width="1.1"/>
<text x="508.9" y="377.78" text-anchor="end" class="a">9.75</text>
<line x1="512" x2="516.5" y1="402.34" y2="402.34" stroke="#262626" stroke-width="1.1"/>
<text x="508.9" y="407.04" text-anchor="end" class="a">9.50</text>
<line x1="512" x2="516.5" y1="431.6" y2="431.6" stroke="#262626" stroke-width="1.1"/>
<text x="508.9" y="436.3" text-anchor="end" class="a">9.25</text>
<line x1="512" x2="516.5" y1="460.86" y2="460.86" stroke="#262626" stroke-width="1.1"/>
<text x="508.9" y="465.56" text-anchor="end" class="a">9.00</text>
<clipPath id="c23"><rect x="736.5" y="340.7" width="177" height="120.4"/></clipPath>
<g clip-path="url(#c23)">
<line x1="736.5" x2="913.5" y1="351.02" y2="351.02" stroke="#EBEBEB" stroke-width="0.6"/>
<line x1="736.5" x2="913.5" y1="383.32" y2="383.32" stroke="#EBEBEB" stroke-width="0.6"/>
<line x1="736.5" x2="913.5" y1="415.62" y2="415.62" stroke="#EBEBEB" stroke-width="0.6"/>
<line x1="736.5" x2="913.5" y1="447.92" y2="447.92" stroke="#EBEBEB" stroke-width="0.6"/>
<line x1="736.5" x2="913.5" y1="367.17" y2="367.17" stroke="#EBEBEB" stroke-width="1.1"/>
<line x1="736.5" x2="913.5" y1="399.47" y2="399.47" stroke="#EBEBEB" stroke-width="1.1"/>
<line x1="736.5" x2="913.5" y1="431.77" y2="431.77" stroke="#EBEBEB" stroke-width="1.1"/>
<line x1="784.77" x2="784.77" y1="340.7" y2="461.1" stroke="#EBEBEB" stroke-width="1.1"/>
<line x1="865.23" x2="865.23" y1="340.7" y2="461.1" stroke="#EBEBEB" stroke-width="1.1"/>
<line x1="784.77" x2="784.77" y1="384.9" y2="396.6" stroke="#262626" stroke-width="1.25"/>
<line x1="784.77" x2="784.77" y1="346.5" y2="360.3" stroke="#262626" stroke-width="1.25"/>
<rect x="754.6" y="360.3" width="60.34" height="24.6" fill="#F8766D" stroke="#262626" stroke-width="1.2"/>
<line x1="754.6" x2="814.94" y1="379.8" y2="379.8" stroke="#1E1E1E" stroke-width="2.4"/>
<line x1="865.23" x2="865.23" y1="443.1" y2="455.7" stroke="#262626" stroke-width="1.25"/>
<line x1="865.23" x2="865.23" y1="419" y2="426.1" stroke="#262626" stroke-width="1.25"/>
<rect x="835.06" y="426.1" width="60.34" height="17" fill="#00BFC4" stroke="#262626" stroke-width="1.2"/>
<line x1="835.06" x2="895.4" y1="429.8" y2="429.8" stroke="#1E1E1E" stroke-width="2.4"/>
</g>
<rect x="736.5" y="340.7" width="177" height="120.4" fill="none" stroke="#262626" stroke-width="1.1"/>
<rect x="736.5" y="314.5" width="177" height="26.2" fill="#D9D9D9" stroke="#262626" stroke-width="1.1"/>
<rect x="737.8" y="315.8" width="174.4" height="23.6" fill="none" stroke="#ECECEC" stroke-width="0.9"/>
<text x="825" y="332.4" text-anchor="middle" class="s">MFSD5</text>
<line x1="732" x2="736.5" y1="367.17" y2="367.17" stroke="#262626" stroke-width="1.1"/>
<text x="728.9" y="371.87" text-anchor="end" class="a">9.7</text>
<line x1="732" x2="736.5" y1="399.47" y2="399.47" stroke="#262626" stroke-width="1.1"/>
<text x="728.9" y="404.17" text-anchor="end" class="a">9.5</text>
<line x1="732" x2="736.5" y1="431.77" y2="431.77" stroke="#262626" stroke-width="1.1"/>
<text x="728.9" y="436.47" text-anchor="end" class="a">9.3</text>
<line x1="784.77" x2="784.77" y1="461.1" y2="465.6" stroke="#262626" stroke-width="1.1"/>
<text transform="translate(782.37 474) rotate(90)" class="x" textLength="43.8" lengthAdjust="spacingAndGlyphs">Control</text>
<line x1="865.23" x2="865.23" y1="461.1" y2="465.6" stroke="#262626" stroke-width="1.1"/>
<text transform="translate(860.03 473) rotate(90)" class="x" textLength="43.8" lengthAdjust="spacingAndGlyphs">SK1 KD</text>
<clipPath id="c30"><rect x="61.5" y="496.6" width="177" height="120.4"/></clipPath>
<g clip-path="url(#c30)">
<line x1="61.5" x2="238.5" y1="510.02" y2="510.02" stroke="#EBEBEB" stroke-width="0.6"/>
<line x1="61.5" x2="238.5" y1="544.67" y2="544.67" stroke="#EBEBEB" stroke-width="0.6"/>
<line x1="61.5" x2="238.5" y1="579.33" y2="579.33" stroke="#EBEBEB" stroke-width="0.6"/>
<line x1="61.5" x2="238.5" y1="613.98" y2="613.98" stroke="#EBEBEB" stroke-width="0.6"/>
<line x1="61.5" x2="238.5" y1="527.35" y2="527.35" stroke="#EBEBEB" stroke-width="1.1"/>
<line x1="61.5" x2="238.5" y1="562" y2="562" stroke="#EBEBEB" stroke-width="1.1"/>
<line x1="61.5" x2="238.5" y1="596.65" y2="596.65" stroke="#EBEBEB" stroke-width="1.1"/>
<line x1="109.77" x2="109.77" y1="496.6" y2="617" stroke="#EBEBEB" stroke-width="1.1"/>
<line x1="190.23" x2="190.23" y1="496.6" y2="617" stroke="#EBEBEB" stroke-width="1.1"/>
<line x1="109.77" x2="109.77" y1="593.9" y2="611.5" stroke="#262626" stroke-width="1.25"/>
<line x1="109.77" x2="109.77" y1="538.8" y2="561.5" stroke="#262626" stroke-width="1.25"/>
<rect x="79.6" y="561.5" width="60.34" height="32.4" fill="#F8766D" stroke="#262626" stroke-width="1.2"/>
<line x1="79.6" x2="139.94" y1="583.1" y2="583.1" stroke="#1E1E1E" stroke-width="2.4"/>
<line x1="190.23" x2="190.23" y1="546.3" y2="553.1" stroke="#262626" stroke-width="1.25"/>
<line x1="190.23" x2="190.23" y1="502.5" y2="514.2" stroke="#262626" stroke-width="1.25"/>
<rect x="160.06" y="514.2" width="60.34" height="32.1" fill="#00BFC4" stroke="#262626" stroke-width="1.2"/>
<line x1="160.06" x2="220.4" y1="529.2" y2="529.2" stroke="#1E1E1E" stroke-width="2.4"/>
</g>
<rect x="61.5" y="496.6" width="177" height="120.4" fill="none" stroke="#262626" stroke-width="1.1"/>
<rect x="61.5" y="470.4" width="177" height="26.2" fill="#D9D9D9" stroke="#262626" stroke-width="1.1"/>
<rect x="62.8" y="471.7" width="174.4" height="23.6" fill="none" stroke="#ECECEC" stroke-width="0.9"/>
<text x="150" y="488.3" text-anchor="middle" class="s">BIVM.ERCC5</text>
<line x1="57" x2="61.5" y1="527.35" y2="527.35" stroke="#262626" stroke-width="1.1"/>
<text x="53.9" y="532.05" text-anchor="end" class="a">7.2</text>
<line x1="57" x2="61.5" y1="562" y2="562" stroke="#262626" stroke-width="1.1"/>
<text x="53.9" y="566.7" text-anchor="end" class="a">6.8</text>
<line x1="57" x2="61.5" y1="596.65" y2="596.65" stroke="#262626" stroke-width="1.1"/>
<text x="53.9" y="601.35" text-anchor="end" class="a">6.4</text>
<line x1="109.77" x2="109.77" y1="617" y2="621.5" stroke="#262626" stroke-width="1.1"/>
<text transform="translate(107.37 627.7) rotate(90)" class="x" textLength="43.8" lengthAdjust="spacingAndGlyphs">Control</text>
<line x1="190.23" x2="190.23" y1="617" y2="621.5" stroke="#262626" stroke-width="1.1"/>
<text transform="translate(185.03 626.9) rotate(90)" class="x" textLength="43.8" lengthAdjust="spacingAndGlyphs">SK1 KD</text>
<clipPath id="c31"><rect x="289" y="496.6" width="177" height="120.4"/></clipPath>
<g clip-path="url(#c31)">
<line x1="289" x2="466" y1="508.32" y2="508.32" stroke="#EBEBEB" stroke-width="0.6"/>
<line x1="289" x2="466" y1="530.99" y2="530.99" stroke="#EBEBEB" stroke-width="0.6"/>
<line x1="289" x2="466" y1="553.67" y2="553.67" stroke="#EBEBEB" stroke-width="0.6"/>
<line x1="289" x2="466" y1="576.34" y2="576.34" stroke="#EBEBEB" stroke-width="0.6"/>
<line x1="289" x2="466" y1="599.02" y2="599.02" stroke="#EBEBEB" stroke-width="0.6"/>
<line x1="289" x2="466" y1="496.98" y2="496.98" stroke="#EBEBEB" stroke-width="1.1"/>
<line x1="289" x2="466" y1="519.66" y2="519.66" stroke="#EBEBEB" stroke-width="1.1"/>
<line x1="289" x2="466" y1="542.33" y2="542.33" stroke="#EBEBEB" stroke-width="1.1"/>
<line x1="289" x2="466" y1="565" y2="565" stroke="#EBEBEB" stroke-width="1.1"/>
<line x1="289" x2="466" y1="587.68" y2="587.68" stroke="#EBEBEB" stroke-width="1.1"/>
<line x1="289" x2="466" y1="610.35" y2="610.35" stroke="#EBEBEB" stroke-width="1.1"/>
<line x1="337.27" x2="337.27" y1="496.6" y2="617" stroke="#EBEBEB" stroke-width="1.1"/>
<line x1="417.73" x2="417.73" y1="496.6" y2="617" stroke="#EBEBEB" stroke-width="1.1"/>
<line x1="337.27" x2="337.27" y1="550.3" y2="563.1" stroke="#262626" stroke-width="1.25"/>
<line x1="337.27" x2="337.27" y1="502" y2="508.4" stroke="#262626" stroke-width="1.25"/>
<rect x="307.1" y="508.4" width="60.34" height="41.9" fill="#F8766D" stroke="#262626" stroke-width="1.2"/>
<line x1="307.1" x2="367.44" y1="523.3" y2="523.3" stroke="#1E1E1E" stroke-width="2.4"/>
<line x1="417.73" x2="417.73" y1="604.3" y2="611.9" stroke="#262626" stroke-width="1.25"/>
<line x1="417.73" x2="417.73" y1="573.9" y2="588.9" stroke="#262626" stroke-width="1.25"/>
<rect x="387.56" y="588.9" width="60.34" height="15.4" fill="#00BFC4" stroke="#262626" stroke-width="1.2"/>
<line x1="387.56" x2="447.9" y1="589.2" y2="589.2" stroke="#1E1E1E" stroke-width="2.4"/>
</g>
<rect x="289" y="496.6" width="177" height="120.4" fill="none" stroke="#262626" stroke-width="1.1"/>
<rect x="289" y="470.4" width="177" height="26.2" fill="#D9D9D9" stroke="#262626" stroke-width="1.1"/>
<rect x="290.3" y="471.7" width="174.4" height="23.6" fill="none" stroke="#ECECEC" stroke-width="0.9"/>
<text x="377.5" y="488.3" text-anchor="middle" class="s">SLC44A2</text>
<line x1="284.5" x2="289" y1="496.98" y2="496.98" stroke="#262626" stroke-width="1.1"/>
<text x="281.4" y="501.68" text-anchor="end" class="a">10.00</text>
<line x1="284.5" x2="289" y1="519.66" y2="519.66" stroke="#262626" stroke-width="1.1"/>
<text x="281.4" y="524.36" text-anchor="end" class="a">9.75</text>
<line x1="284.5" x2="289" y1="542.33" y2="542.33" stroke="#262626" stroke-width="1.1"/>
<text x="281.4" y="547.03" text-anchor="end" class="a">9.50</text>
<line x1="284.5" x2="289" y1="565" y2="565" stroke="#262626" stroke-width="1.1"/>
<text x="281.4" y="569.7" text-anchor="end" class="a">9.25</text>
<line x1="284.5" x2="289" y1="587.68" y2="587.68" stroke="#262626" stroke-width="1.1"/>
<text x="281.4" y="592.38" text-anchor="end" class="a">9.00</text>
<line x1="284.5" x2="289" y1="610.35" y2="610.35" stroke="#262626" stroke-width="1.1"/>
<text x="281.4" y="615.05" text-anchor="end" class="a">8.75</text>
<line x1="337.27" x2="337.27" y1="617" y2="621.5" stroke="#262626" stroke-width="1.1"/>
<text transform="translate(334.87 627.7) rotate(90)" class="x" textLength="43.8" lengthAdjust="spacingAndGlyphs">Control</text>
<line x1="417.73" x2="417.73" y1="617" y2="621.5" stroke="#262626" stroke-width="1.1"/>
<text transform="translate(412.53 626.9) rotate(90)" class="x" textLength="43.8" lengthAdjust="spacingAndGlyphs">SK1 KD</text>
<clipPath id="c32"><rect x="516.5" y="496.6" width="177" height="120.4"/></clipPath>
<g clip-path="url(#c32)">
<line x1="516.5" x2="693.5" y1="510.76" y2="510.76" stroke="#EBEBEB" stroke-width="0.6"/>
<line x1="516.5" x2="693.5" y1="529.97" y2="529.97" stroke="#EBEBEB" stroke-width="0.6"/>
<line x1="516.5" x2="693.5" y1="549.18" y2="549.18" stroke="#EBEBEB" stroke-width="0.6"/>
<line x1="516.5" x2="693.5" y1="568.39" y2="568.39" stroke="#EBEBEB" stroke-width="0.6"/>
<line x1="516.5" x2="693.5" y1="587.6" y2="587.6" stroke="#EBEBEB" stroke-width="0.6"/>
<line x1="516.5" x2="693.5" y1="606.81" y2="606.81" stroke="#EBEBEB" stroke-width="0.6"/>
<line x1="516.5" x2="693.5" y1="501.15" y2="501.15" stroke="#EBEBEB" stroke-width="1.1"/>
<line x1="516.5" x2="693.5" y1="520.36" y2="520.36" stroke="#EBEBEB" stroke-width="1.1"/>
<line x1="516.5" x2="693.5" y1="539.57" y2="539.57" stroke="#EBEBEB" stroke-width="1.1"/>
<line x1="516.5" x2="693.5" y1="558.79" y2="558.79" stroke="#EBEBEB" stroke-width="1.1"/>
<line x1="516.5" x2="693.5" y1="578" y2="578" stroke="#EBEBEB" stroke-width="1.1"/>
<line x1="516.5" x2="693.5" y1="597.21" y2="597.21" stroke="#EBEBEB" stroke-width="1.1"/>
<line x1="516.5" x2="693.5" y1="616.42" y2="616.42" stroke="#EBEBEB" stroke-width="1.1"/>
<line x1="564.77" x2="564.77" y1="496.6" y2="617" stroke="#EBEBEB" stroke-width="1.1"/>
<line x1="645.23" x2="645.23" y1="496.6" y2="617" stroke="#EBEBEB" stroke-width="1.1"/>
<line x1="564.77" x2="564.77" y1="549.3" y2="556.7" stroke="#262626" stroke-width="1.25"/>
<line x1="564.77" x2="564.77" y1="502.6" y2="512.1" stroke="#262626" stroke-width="1.25"/>
<rect x="534.6" y="512.1" width="60.34" height="37.2" fill="#F8766D" stroke="#262626" stroke-width="1.2"/>
<line x1="534.6" x2="594.94" y1="536" y2="536" stroke="#1E1E1E" stroke-width="2.4"/>
<line x1="645.23" x2="645.23" y1="608.4" y2="610.7" stroke="#262626" stroke-width="1.25"/>
<line x1="645.23" x2="645.23" y1="592.3" y2="593" stroke="#262626" stroke-width="1.25"/>
<rect x="615.06" y="593" width="60.34" height="15.4" fill="#00BFC4" stroke="#262626" stroke-width="1.2"/>
<line x1="615.06" x2="675.4" y1="598.6" y2="598.6" stroke="#1E1E1E" stroke-width="2.4"/>
<circle cx="645.23" cy="568.2" r="2.5" fill="#1A1A1A"/>
</g>
<rect x="516.5" y="496.6" width="177" height="120.4" fill="none" stroke="#262626" stroke-width="1.1"/>
<rect x="516.5" y="470.4" width="177" height="26.2" fill="#D9D9D9" stroke="#262626" stroke-width="1.1"/>
<rect x="517.8" y="471.7" width="174.4" height="23.6" fill="none" stroke="#ECECEC" stroke-width="0.9"/>
<text x="605" y="488.3" text-anchor="middle" class="s">POFUT1</text>
<line x1="512" x2="516.5" y1="501.15" y2="501.15" stroke="#262626" stroke-width="1.1"/>
<text x="508.9" y="505.85" text-anchor="end" class="a">9.5</text>
<line x1="512" x2="516.5" y1="520.36" y2="520.36" stroke="#262626" stroke-width="1.1"/>
<text x="508.9" y="525.06" text-anchor="end" class="a">9.4</text>
<line x1="512" x2="516.5" y1="539.57" y2="539.57" stroke="#262626" stroke-width="1.1"/>
<text x="508.9" y="544.27" text-anchor="end" class="a">9.3</text>
<line x1="512" x2="516.5" y1="558.79" y2="558.79" stroke="#262626" stroke-width="1.1"/>
<text x="508.9" y="563.49" text-anchor="end" class="a">9.2</text>
<line x1="512" x2="516.5" y1="578" y2="578" stroke="#262626" stroke-width="1.1"/>
<text x="508.9" y="582.7" text-anchor="end" class="a">9.1</text>
<line x1="512" x2="516.5" y1="597.21" y2="597.21" stroke="#262626" stroke-width="1.1"/>
<text x="508.9" y="601.91" text-anchor="end" class="a">9.0</text>
<line x1="512" x2="516.5" y1="616.42" y2="616.42" stroke="#262626" stroke-width="1.1"/>
<text x="508.9" y="621.12" text-anchor="end" class="a">8.9</text>
<line x1="564.77" x2="564.77" y1="617" y2="621.5" stroke="#262626" stroke-width="1.1"/>
<text transform="translate(562.37 627.7) rotate(90)" class="x" textLength="43.8" lengthAdjust="spacingAndGlyphs">Control</text>
<line x1="645.23" x2="645.23" y1="617" y2="621.5" stroke="#262626" stroke-width="1.1"/>
<text transform="translate(640.03 626.9) rotate(90)" class="x" textLength="43.8" lengthAdjust="spacingAndGlyphs">SK1 KD</text>
<text transform="translate(16.3 323.2) rotate(-90)" text-anchor="middle" class="t">Expression Value</text>
<text x="935" y="305.5" class="t" style="font-size:16.4px">expt</text>
<line x1="945.2" x2="945.2" y1="312.8" y2="330.2" stroke="#262626" stroke-width="1.1"/>
<rect x="937" y="316.15" width="16.6" height="10.7" fill="#F8766D" stroke="#262626" stroke-width="1.1"/>
<line x1="937" x2="953.6" y1="321.5" y2="321.5" stroke="#262626" stroke-width="1.8"/>
<text x="955.0" y="324" class="l" textLength="42.9" lengthAdjust="spacingAndGlyphs">Control</text>
<line x1="945.2" x2="945.2" y1="333.9" y2="351.3" stroke="#262626" stroke-width="1.1"/>
<rect x="937" y="337.25" width="16.6" height="10.7" fill="#00BFC4" stroke="#262626" stroke-width="1.1"/>
<line x1="937" x2="953.6" y1="342.6" y2="342.6" stroke="#262626" stroke-width="1.8"/>
<text x="955.0" y="344.4" class="l" textLength="40.6" lengthAdjust="spacingAndGlyphs">SK1 KD</text>
</svg>
</body></html>
